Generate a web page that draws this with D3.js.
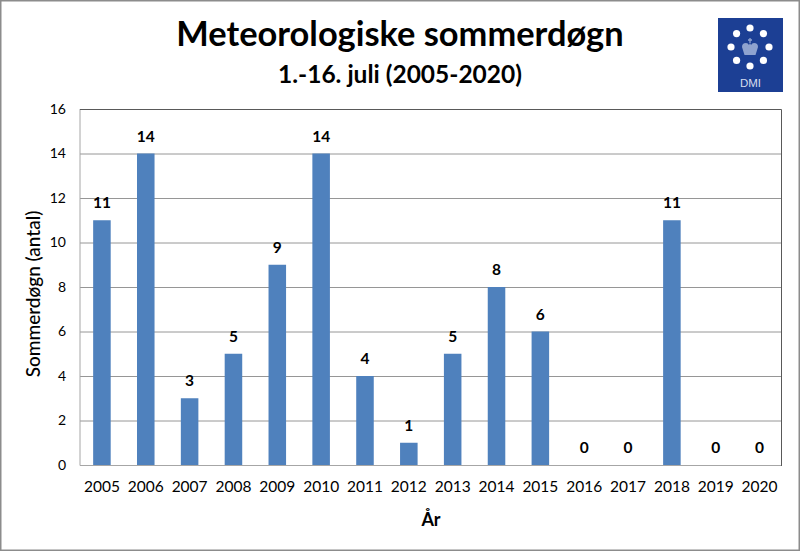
<!DOCTYPE html>
<html>
<head>
<meta charset="utf-8">
<script src="https://cdn.jsdelivr.net/npm/d3@7"></script>
<style>
  html, body { margin: 0; padding: 0; background: #fff; }
  text { font-family: Lato, "Open Sans", sans-serif; fill: #000; }
</style>
</head>
<body>
<div id="chart"></div>
<script>
const years = ["2005","2006","2007","2008","2009","2010","2011","2012","2013","2014","2015","2016","2017","2018","2019","2020"];
const days = [11,14,3,5,9,14,4,1,5,8,6,0,0,11,0,0];
const yTicks = [0,2,4,6,8,10,12,14,16];

const width = 800, height = 551;
const plotLeft = 80, plotRight = 781.5, plotTop = 109, plotBottom = 465;

const svg = d3.select("#chart").append("svg")
  .attr("width", width).attr("height", height)
  .style("display", "block");

svg.append("rect")
  .attr("x", 0.75).attr("y", 0.75)
  .attr("width", width - 1.5).attr("height", height - 1.5)
  .attr("fill", "#fff").attr("stroke", "#8c8c8c").attr("stroke-width", 1.5);

const x = d3.scaleBand().domain(years).range([plotLeft, plotRight]).paddingInner(0.6).paddingOuter(0.3);
const y = d3.scaleLinear().domain([0, 16]).range([plotBottom, plotTop]);

// gridlines
svg.append("g").selectAll("line")
  .data(yTicks.filter(d => d > 0 && d < 16))
  .enter().append("line")
  .attr("x1", plotLeft).attr("x2", plotRight)
  .attr("y1", d => y(d) + 0.5).attr("y2", d => y(d) + 0.5)
  .attr("stroke", "#969696").attr("stroke-width", 1);

// plot frame, left and bottom light, top and right dark
svg.append("path")
  .attr("d", `M${plotLeft},${plotTop} V${plotBottom + 0.5} H${plotRight}`)
  .attr("fill", "none").attr("stroke", "#a6a6a6").attr("stroke-width", 1);
svg.append("path")
  .attr("d", `M${plotLeft},${plotTop + 0.5} H${plotRight} V${plotBottom + 1}`)
  .attr("fill", "none").attr("stroke", "#595959").attr("stroke-width", 1);

svg.append("g").selectAll("rect")
  .data(years)
  .enter().append("rect")
  .attr("x", d => x(d))
  .attr("y", (d, i) => y(days[i]))
  .attr("width", x.bandwidth())
  .attr("height", (d, i) => y(0) - y(days[i]))
  .attr("fill", "#4f81bd");

// value labels
svg.append("g").selectAll("text")
  .data(years)
  .enter().append("text")
  .attr("x", d => x(d) + x.bandwidth() / 2)
  .attr("y", (d, i) => y(days[i]) - 12)
  .attr("text-anchor", "middle")
  .attr("font-size", 15.5).attr("font-weight", 700)
  .text((d, i) => days[i]);

// axes
const yAxis = d3.axisLeft(y).tickValues(yTicks).tickSize(0).tickPadding(14);
const gy = svg.append("g").attr("transform", `translate(${plotLeft},0)`).call(yAxis);
gy.select(".domain").remove();
gy.selectAll("text").attr("font-size", 14).style("font-family", "Lato");

const xAxis = d3.axisBottom(x).tickSize(0).tickPadding(16);
const gx = svg.append("g").attr("transform", `translate(0,${plotBottom})`).call(xAxis);
gx.select(".domain").remove();
gx.selectAll("text").attr("font-size", 15.5).style("font-family", "Lato");

// titles
svg.append("text").attr("x", 400).attr("y", 46).attr("text-anchor", "middle")
  .attr("font-size", 34.4).attr("font-weight", 700).text("Meteorologiske sommerdøgn");
svg.append("text").attr("x", 400).attr("y", 83).attr("text-anchor", "middle")
  .attr("font-size", 24.5).attr("font-weight", 700).text("1.-16. juli (2005-2020)");
svg.append("text").attr("x", 431).attr("y", 526).attr("text-anchor", "middle")
  .attr("font-size", 18).attr("font-weight", 700).text("År");
svg.append("text")
  .attr("transform", "translate(40,294) rotate(-90)")
  .attr("text-anchor", "middle")
  .attr("font-size", 19).attr("font-weight", 500).text("Sommerdøgn (antal)");

// DMI logo
const logo = svg.append("g").attr("transform", "translate(718,18)");
logo.append("rect").attr("width", 65).attr("height", 74).attr("fill", "#1c3f94");
const dotAngles = d3.range(8).map(i => i * Math.PI / 4);
logo.selectAll("circle").data(dotAngles).enter().append("circle")
  .attr("cx", a => 32 + 19 * Math.cos(a))
  .attr("cy", a => 29 + 19 * Math.sin(a))
  .attr("r", 3.6).attr("fill", "#fff");
logo.append("path")
  .attr("d", "M26.5,37 L24,29 Q24,25 28,25 Q30,25 31,27 L32,25 L33,27 Q34,25 36,25 Q40,25 40,29 L37.5,37 Z")
  .attr("fill", "#8fa3cf");
logo.append("path").attr("d", "M32,20 V25 M30,22 H34").attr("stroke", "#8fa3cf").attr("stroke-width", 1.3);
logo.append("text").attr("x", 32.5).attr("y", 69).attr("text-anchor", "middle")
  .attr("font-size", 11.5).style("fill", "#d5dcee").style("font-family", "Liberation Sans").text("DMI");
</script>
</body>
</html>
